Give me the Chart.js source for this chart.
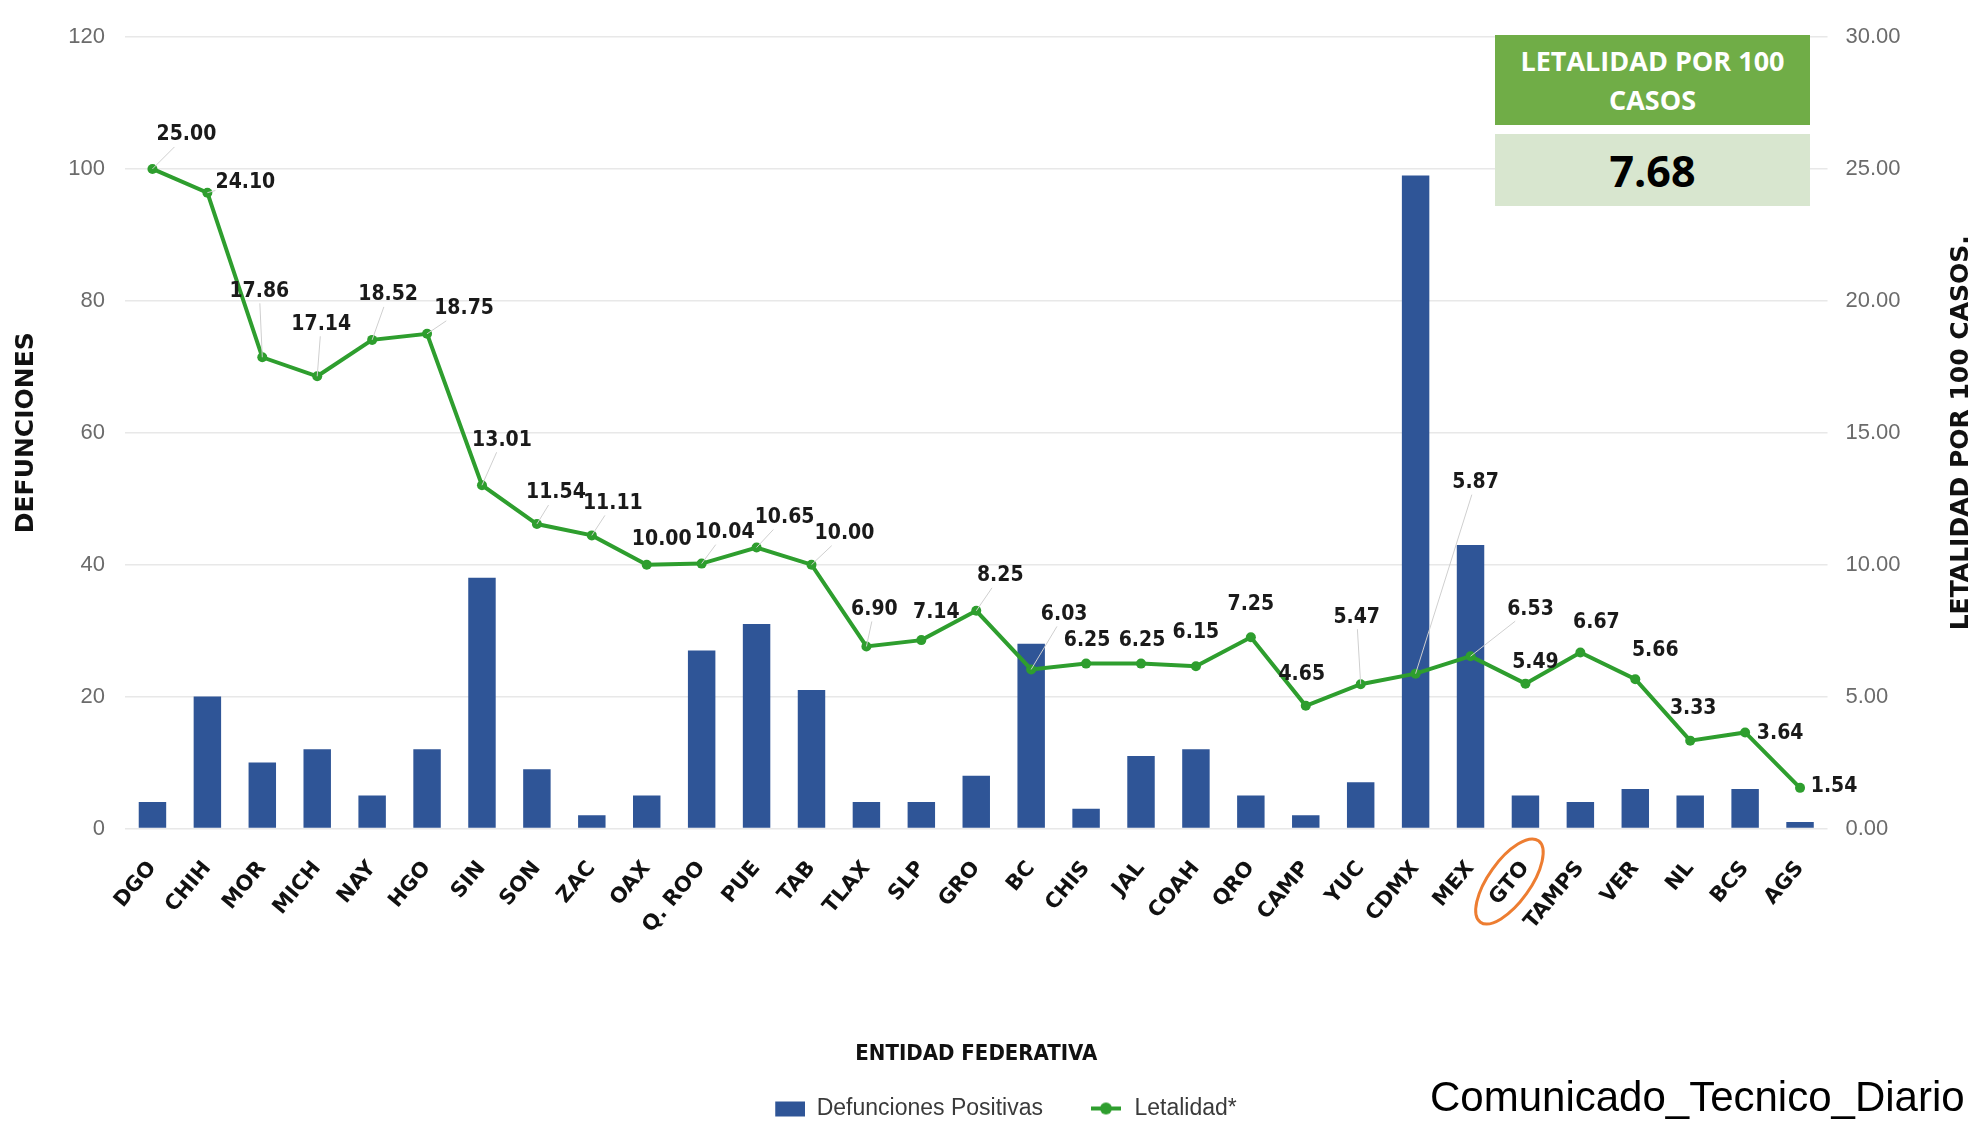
<!DOCTYPE html>
<html>
<head>
<meta charset="utf-8">
<script src="https://cdn.jsdelivr.net/npm/chart.js@4.4.1/dist/chart.umd.min.js"></script>
<style>
  html, body { margin: 0; padding: 0; background: #fff; overflow: hidden; }
  #wrap { position: relative; width: 1972px; height: 1124px; }
  #grafica { position: absolute; left: 0; top: 0; }
  .kpi-titulo {
    position: absolute; left: 1495px; top: 35px; width: 315px; height: 90px;
    background: #70ad47; color: #fff; font: bold 27px "Open Sans", sans-serif;
    line-height: 39px; text-align: center;
    display: flex; align-items: center; justify-content: center;
  }
  .kpi-valor {
    position: absolute; left: 1495px; top: 134px; width: 315px; height: 72px;
    background: #d8e6cf; color: #000; font: bold 43px "Open Sans", sans-serif;
    display: flex; align-items: center; justify-content: center;
  }
  .fuente {
    position: absolute; left: 1430px; top: 1076px; color: #000;
    font: 42px "Liberation Sans", Arial, sans-serif; line-height: 1; white-space: nowrap;
  }
</style>
</head>
<body>
<div id="wrap">
  <canvas id="grafica" width="1972" height="1124"></canvas>
  <div class="kpi-titulo">LETALIDAD POR 100<br>CASOS</div>
  <div class="kpi-valor" id="kpi"></div>
  <div class="fuente">Comunicado_Tecnico_Diario</div>
</div>
<script>
const estados = ["DGO", "CHIH", "MOR", "MICH", "NAY", "HGO", "SIN", "SON", "ZAC", "OAX",
  "Q. ROO", "PUE", "TAB", "TLAX", "SLP", "GRO", "BC", "CHIS", "JAL", "COAH", "QRO",
  "CAMP", "YUC", "CDMX", "MEX", "GTO", "TAMPS", "VER", "NL", "BCS", "AGS"];
const defunciones = [4, 20, 10, 12, 5, 12, 38, 9, 2, 5, 27, 31, 21, 4, 4, 8, 28, 3, 11, 12,
  5, 2, 7, 99, 43, 5, 4, 6, 5, 6, 1];
const letalidad = [25.00, 24.10, 17.86, 17.14, 18.52, 18.75, 13.01, 11.54, 11.11, 10.00,
  10.04, 10.65, 10.00, 6.90, 7.14, 8.25, 6.03, 6.25, 6.25, 6.15, 7.25, 4.65, 5.47, 5.87,
  6.53, 5.49, 6.67, 5.66, 3.33, 3.64, 1.54];
const letalidadNacional = "7.68";

// where each value label sits relative to its point (px)
const desfase = [[34, -34], [38, -10], [-3, -66], [4, -52], [16, -45], [37, -25], [20, -45],
  [19, -31], [21, -32], [15, -25], [23, -31], [28, -30], [33, -31], [8, -37], [15, -28],
  [24, -35], [33, -55], [1, -23], [1, -23], [0, -34], [0, -33], [-4, -31], [-4, -67],
  [60, -191], [60, -47], [10, -21], [16, -30], [20, -29], [3, -32], [35, 1], [34, -1]];

const azul = "#2f5597";
const verde = "#2e9e2e";

document.getElementById("kpi").textContent = letalidadNacional;

function marcaBarra() {
  const c = document.createElement("canvas");
  c.width = 70; c.height = 20;
  const g = c.getContext("2d");
  g.fillStyle = azul;
  g.fillRect(40, 3, 30, 15);
  return c;
}

function marcaLinea() {
  const c = document.createElement("canvas");
  c.width = 70; c.height = 20;
  const g = c.getContext("2d");
  g.strokeStyle = verde;
  g.lineWidth = 4;
  g.beginPath(); g.moveTo(38, 10); g.lineTo(68, 10); g.stroke();
  g.fillStyle = verde;
  g.beginPath(); g.arc(53, 10, 6, 0, Math.PI * 2); g.fill();
  return c;
}

const etiquetas = {
  id: "etiquetas",
  afterDatasetsDraw(chart) {
    const ctx = chart.ctx;
    const meta = chart.getDatasetMeta(1);
    ctx.save();
    ctx.font = "bold 21px 'DejaVu Sans Condensed', 'DejaVu Sans', sans-serif";
    ctx.textAlign = "center";
    ctx.textBaseline = "middle";
    meta.data.forEach((pt, i) => {
      const [dx, dy] = desfase[i];
      const lx = pt.x + dx, ly = pt.y + dy;
      if (Math.hypot(dx, dy) > 36) {
        const s = Math.min(dx ? 30 / Math.abs(dx) : Infinity, dy ? 12 / Math.abs(dy) : Infinity);
        ctx.strokeStyle = "#cfcfcf";
        ctx.lineWidth = 1;
        ctx.beginPath();
        ctx.moveTo(pt.x, pt.y);
        ctx.lineTo(lx - dx * s, ly - dy * s);
        ctx.stroke();
      }
      ctx.fillStyle = "#1a1a1a";
      ctx.fillText(letalidad[i].toFixed(2), lx, ly);
    });
    ctx.restore();
  },
  afterDraw(chart) {
    const ctx = chart.ctx;
    const area = chart.chartArea;

    // right axis title, reading bottom to top
    ctx.save();
    ctx.translate(1961, (area.top + area.bottom) / 2);
    ctx.rotate(-Math.PI / 2);
    ctx.font = "bold 25px 'DejaVu Sans', sans-serif";
    ctx.fillStyle = "#111";
    ctx.textAlign = "center";
    ctx.textBaseline = "middle";
    ctx.fillText("LETALIDAD POR 100 CASOS.", 0, 0);
    ctx.restore();

    // orange ring around GTO label
    const x = chart.scales.x.getPixelForValue(estados.indexOf("GTO"));
    ctx.save();
    ctx.strokeStyle = "#ed7d31";
    ctx.lineWidth = 3;
    ctx.beginPath();
    ctx.ellipse(x - 16, area.bottom + 53, 21, 50, 0.62, 0, Math.PI * 2);
    ctx.stroke();
    ctx.restore();
  }
};

Chart.defaults.font.family = "'Liberation Sans', Arial, sans-serif";

new Chart(document.getElementById("grafica"), {
  type: "bar",
  data: {
    labels: estados,
    datasets: [
      {
        label: "Defunciones Positivas",
        data: defunciones,
        backgroundColor: azul,
        barPercentage: 0.5,
        categoryPercentage: 1,
        yAxisID: "y",
        order: 1,
      },
      {
        type: "line",
        label: "Letalidad*",
        data: letalidad,
        borderColor: verde,
        backgroundColor: verde,
        borderWidth: 4,
        pointRadius: 5,
        pointBorderWidth: 0,
        pointBackgroundColor: verde,
        tension: 0,
        yAxisID: "y1",
        order: 0,
      },
    ],
  },
  options: {
    responsive: false,
    animation: false,
    layout: { padding: { top: 37, bottom: -6, left: 0, right: 0 } },
    plugins: {
      tooltip: { enabled: false },
      legend: {
        position: "bottom",
        labels: {
          usePointStyle: true,
          pointStyleWidth: 70,
          padding: 10,
          color: "#3a3a3a",
          font: { size: 23 },
          sort: (a, b) => a.datasetIndex - b.datasetIndex,
          generateLabels(chart) {
            const items = Chart.defaults.plugins.legend.labels.generateLabels(chart);
            items.forEach((it) => {
              it.pointStyle = it.datasetIndex === 0 ? marcaBarra() : marcaLinea();
            });
            return items;
          },
        },
      },
    },
    scales: {
      x: {
        grid: { display: false, drawTicks: false },
        border: { display: false },
        ticks: {
          autoSkip: false,
          minRotation: 50,
          maxRotation: 50,
          padding: 28,
          color: "#111",
          font: { family: "'DejaVu Sans', sans-serif", weight: "bold", size: 21 },
        },
        title: {
          display: true,
          text: "ENTIDAD FEDERATIVA",
          color: "#111",
          padding: { top: 4, bottom: 20 },
          font: { family: "'DejaVu Sans Condensed', 'DejaVu Sans', sans-serif", weight: "bold", size: 22 },
        },
        afterFit(scale) { scale.height = 258.5; },
      },
      y: {
        position: "left",
        min: 0,
        max: 120,
        ticks: { stepSize: 20, padding: 20, color: "#6b6b6b", font: { size: 22 } },
        grid: { color: "#e8e8e8", lineWidth: 1.5, drawTicks: false },
        border: { display: false },
        title: {
          display: true,
          text: "DEFUNCIONES",
          color: "#111",
          padding: { top: 14, bottom: 0 },
          font: { family: "'DejaVu Sans', sans-serif", weight: "bold", size: 25, lineHeight: 1 },
        },
        afterFit(scale) { scale.width = 125; },
      },
      y1: {
        position: "right",
        min: 0,
        max: 30,
        ticks: {
          stepSize: 5,
          padding: 18,
          color: "#6b6b6b",
          font: { size: 22 },
          callback: (v) => v.toFixed(2),
        },
        grid: { display: false, drawTicks: false },
        border: { display: false },
        afterFit(scale) { scale.width = 144.5; },
      },
    },
  },
  plugins: [etiquetas],
});
</script>
</body>
</html>
